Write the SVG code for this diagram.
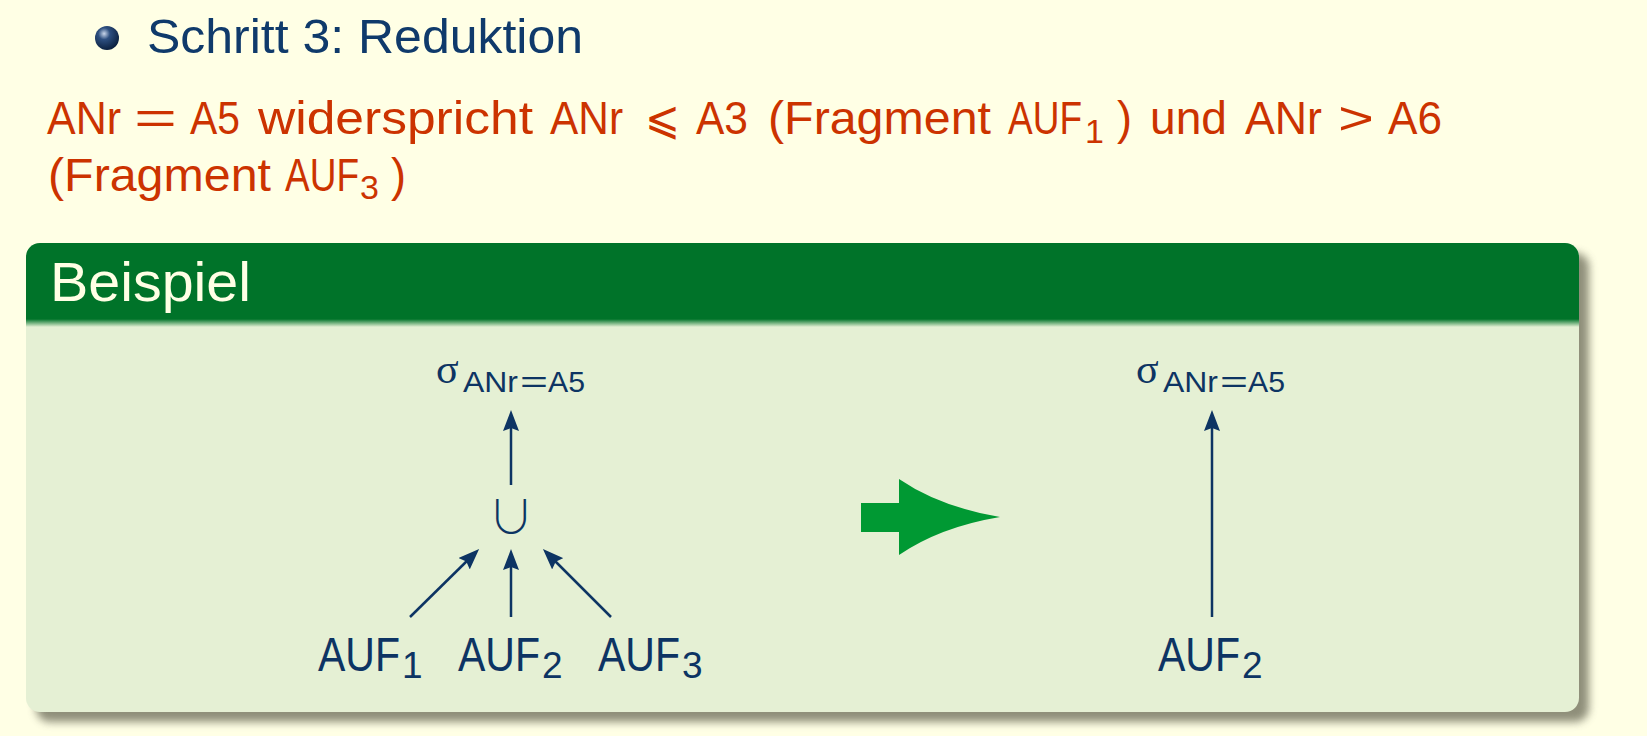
<svg xmlns="http://www.w3.org/2000/svg" width="1647" height="736" viewBox="0 0 1647 736">
  <defs>
    <style>
      .sans { font-family: "Liberation Sans", "DejaVu Sans", sans-serif; }
      .math { font-family: "DejaVu Sans", "Liberation Sans", sans-serif; }
      .thin { font-family: "Noto Sans CJK JP", "DejaVu Sans", sans-serif; font-weight: 300; }
      .serif { font-family: "Liberation Serif", "DejaVu Serif", serif; }
      .head { fill: #0f3a6b; font-size: 48px; }
      .red { fill: #cc3300; font-size: 47px; }
      .redsub { font-size: 34px; }
      .lbl { fill: #0d3463; font-size: 49px; }
      .lblsub { font-size: 37px; }
      .sig { fill: #0d3463; font-size: 42px; }
      .sigsub { fill: #0d3463; font-size: 29px; }
      .edge { stroke: #0d3463; stroke-width: 2.5; fill: none; marker-end: url(#tip); }
    </style>
    <radialGradient id="ball" cx="0.38" cy="0.32" r="0.7">
      <stop offset="0" stop-color="#c9d6ea"/>
      <stop offset="0.35" stop-color="#2d4f80"/>
      <stop offset="1" stop-color="#0a1f3d"/>
    </radialGradient>
    <linearGradient id="headFade" x1="0" y1="0" x2="0" y2="1">
      <stop offset="0" stop-color="#007329"/>
      <stop offset="1" stop-color="#e5f0d4"/>
    </linearGradient>
    <clipPath id="boxClip">
      <rect x="26" y="243" width="1553" height="469" rx="14" ry="14"/>
    </clipPath>
    <filter id="shadowBlur" x="-5%" y="-5%" width="110%" height="110%">
      <feGaussianBlur stdDeviation="4"/>
    </filter>
    <marker id="tip" viewBox="0 0 21 16" refX="11" refY="8" markerWidth="21" markerHeight="16" markerUnits="userSpaceOnUse" orient="auto">
      <path d="M0,0 L21,8 L0,16 L3,8 Z" fill="#0d3463"/>
    </marker>
  </defs>

  <!-- page background -->
  <rect x="0" y="0" width="1647" height="736" fill="#ffffe5"/>

  <!-- bullet item -->
  <g id="bullet">
    <circle cx="107" cy="38" r="12" fill="url(#ball)"/>
    <text class="sans head" x="147" y="53" textLength="436" lengthAdjust="spacingAndGlyphs">Schritt 3: Reduktion</text>
  </g>

  <!-- red remark, two lines -->
  <g id="remark" class="sans">
    <text class="red" x="47" y="134" textLength="74" lengthAdjust="spacingAndGlyphs">ANr</text>
    <text class="red" x="134" y="134" textLength="43" lengthAdjust="spacingAndGlyphs">=</text>
    <text class="red" x="190" y="134" textLength="50" lengthAdjust="spacingAndGlyphs">A5</text>
    <text class="red" x="258" y="134" textLength="275" lengthAdjust="spacingAndGlyphs">widerspricht</text>
    <text class="red" x="550" y="134" textLength="73" lengthAdjust="spacingAndGlyphs">ANr</text>
    <text class="red math" x="645" y="134" textLength="35" lengthAdjust="spacingAndGlyphs">⩽</text>
    <text class="red" x="696" y="134" textLength="52" lengthAdjust="spacingAndGlyphs">A3</text>
    <text class="red" x="768" y="134" textLength="223" lengthAdjust="spacingAndGlyphs">(Fragment</text>
    <text class="red" x="1008" y="134"><tspan textLength="74" lengthAdjust="spacingAndGlyphs">AUF</tspan><tspan class="redsub" dx="3" dy="9">1</tspan></text>
    <text class="red" x="1117" y="134" textLength="15" lengthAdjust="spacingAndGlyphs">)</text>
    <text class="red" x="1150" y="134" textLength="77" lengthAdjust="spacingAndGlyphs">und</text>
    <text class="red" x="1245" y="134" textLength="77" lengthAdjust="spacingAndGlyphs">ANr</text>
    <text class="red" x="1338" y="134" textLength="36" lengthAdjust="spacingAndGlyphs">&gt;</text>
    <text class="red" x="1388" y="134" textLength="54" lengthAdjust="spacingAndGlyphs">A6</text>

    <text class="red" x="48" y="191" textLength="223" lengthAdjust="spacingAndGlyphs">(Fragment</text>
    <text class="red" x="285" y="191"><tspan textLength="74" lengthAdjust="spacingAndGlyphs">AUF</tspan><tspan class="redsub" dx="1" dy="8">3</tspan></text>
    <text class="red" x="391" y="191" textLength="15" lengthAdjust="spacingAndGlyphs">)</text>
  </g>

  <!-- example block -->
  <g id="block">
    <rect x="36" y="253" width="1553" height="469" rx="14" ry="14" fill="#7c7c68" opacity="0.85" filter="url(#shadowBlur)"/>
    <g clip-path="url(#boxClip)">
      <rect x="26" y="243" width="1553" height="469" fill="#e5f0d4"/>
      <rect x="26" y="243" width="1553" height="77" fill="#007329"/>
      <rect x="26" y="319" width="1553" height="8" fill="url(#headFade)"/>
    </g>
    <text class="sans" x="50" y="301" font-size="56" fill="#ffffe5" textLength="201" lengthAdjust="spacingAndGlyphs">Beispiel</text>
  </g>

  <!-- left operator tree -->
  <g id="sel-left" class="sans">
    <text class="serif sig" x="436" y="383">σ</text>
    <text class="sigsub" x="463" y="392" textLength="55" lengthAdjust="spacingAndGlyphs">ANr</text>
    <text class="sigsub" x="520" y="392" textLength="28" lengthAdjust="spacingAndGlyphs">=</text>
    <text class="sigsub" x="548" y="392" textLength="37" lengthAdjust="spacingAndGlyphs">A5</text>
  </g>
  <g id="union">
    <text class="thin" x="511" y="533" font-size="46" fill="#0d3463" text-anchor="middle">∪</text>
  </g>
  <g id="auf1">
    <text class="sans lbl" x="318" y="671"><tspan textLength="82" lengthAdjust="spacingAndGlyphs">AUF</tspan><tspan class="lblsub" dx="2" dy="7">1</tspan></text>
  </g>
  <g id="auf2">
    <text class="sans lbl" x="458" y="671"><tspan textLength="82" lengthAdjust="spacingAndGlyphs">AUF</tspan><tspan class="lblsub" dx="2" dy="7">2</tspan></text>
  </g>
  <g id="auf3">
    <text class="sans lbl" x="598" y="671"><tspan textLength="82" lengthAdjust="spacingAndGlyphs">AUF</tspan><tspan class="lblsub" dx="2" dy="7">3</tspan></text>
  </g>

  <!-- transformation arrow -->
  <g id="transform">
    <rect x="861" y="503" width="39" height="29" fill="#009933"/>
    <path d="M899,479 Q940,507 1000,517 Q940,527 899,555 Z" fill="#009933"/>
  </g>

  <!-- right operator tree -->
  <g id="sel-right" class="sans">
    <text class="serif sig" x="1136" y="383">σ</text>
    <text class="sigsub" x="1163" y="392" textLength="55" lengthAdjust="spacingAndGlyphs">ANr</text>
    <text class="sigsub" x="1220" y="392" textLength="28" lengthAdjust="spacingAndGlyphs">=</text>
    <text class="sigsub" x="1248" y="392" textLength="37" lengthAdjust="spacingAndGlyphs">A5</text>
  </g>
  <g id="auf2-right">
    <text class="sans lbl" x="1158" y="671"><tspan textLength="82" lengthAdjust="spacingAndGlyphs">AUF</tspan><tspan class="lblsub" dx="2" dy="7">2</tspan></text>
  </g>

  <!-- connectors -->
  <g id="connectors">
    <line class="edge" x1="511" y1="485" x2="511" y2="420"/>
    <line class="edge" x1="410" y1="617" x2="472" y2="556"/>
    <line class="edge" x1="511" y1="617" x2="511" y2="559"/>
    <line class="edge" x1="611" y1="617" x2="550" y2="556"/>
    <line class="edge" x1="1212" y1="617" x2="1212" y2="420"/>
  </g>
</svg>
